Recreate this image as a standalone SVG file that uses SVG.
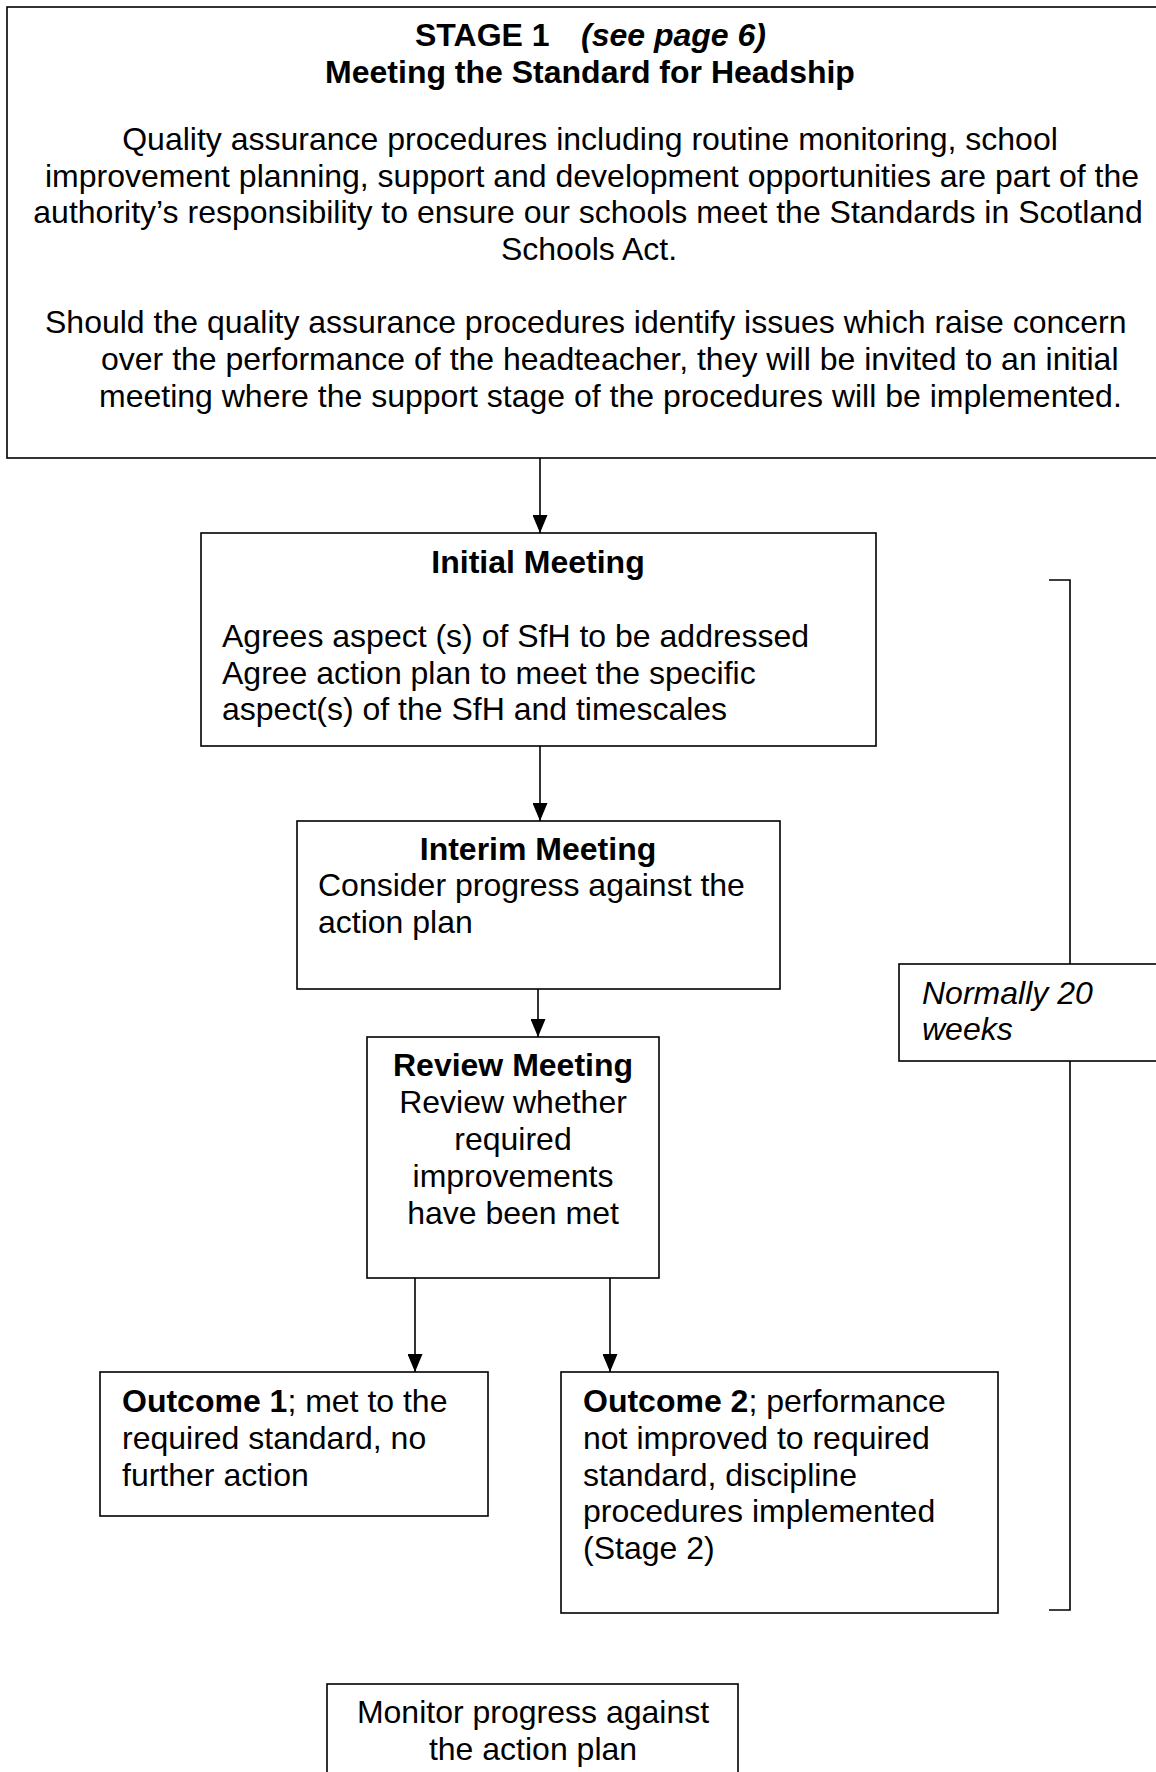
<svg xmlns="http://www.w3.org/2000/svg" width="1156" height="1772" viewBox="0 0 1156 1772">
<style>
text{font-family:"Liberation Sans",Arial,sans-serif;font-size:32px;fill:#000}
.b{font-weight:bold}
.i{font-style:italic}
.c{text-anchor:middle}
.box{fill:#fff;stroke:#000;stroke-width:1.6}
.ln{fill:none;stroke:#000;stroke-width:1.6}
</style>
<defs>
<marker id="ah" markerUnits="userSpaceOnUse" markerWidth="18" markerHeight="15" viewBox="0 0 18 15" refX="18" refY="7.5" orient="auto">
<path d="M0,0 L18,7.5 L0,15 z" fill="#000"/>
</marker>
</defs>
<rect width="1156" height="1772" fill="#fff"/>
<g id="stage1">
<rect class="box" x="7" y="7" width="1160" height="451"/>
<text class="b" x="415" y="46">STAGE 1</text>
<text class="b i" x="581" y="46">(see page 6)</text>
<text class="b c" x="590" y="83">Meeting the Standard for Headship</text>
<text class="c" x="590" y="150">Quality assurance procedures including routine monitoring, school</text>
<text class="c" x="592" y="187">improvement planning, support and development opportunities are part of the</text>
<text class="c" x="588" y="223">authority’s responsibility to ensure our schools meet the Standards in Scotland</text>
<text class="c" x="589" y="260">Schools Act.</text>
<text x="45" y="333">Should the quality assurance procedures identify issues which raise concern</text>
<text x="101" y="370">over the performance of the headteacher, they will be invited to an initial</text>
<text x="99" y="407">meeting where the support stage of the procedures will be implemented.</text>
</g>
<g id="initial">
<rect class="box" x="201" y="533" width="675" height="213"/>
<text class="b c" x="538" y="573">Initial Meeting</text>
<text x="222" y="647">Agrees aspect (s) of SfH to be addressed</text>
<text x="222" y="684">Agree action plan to meet the specific</text>
<text x="222" y="720">aspect(s) of the SfH and timescales</text>
</g>
<g id="interim">
<rect class="box" x="297" y="821" width="483" height="168"/>
<text class="b c" x="538" y="860">Interim Meeting</text>
<text x="318" y="896">Consider progress against the</text>
<text x="318" y="933">action plan</text>
</g>
<g id="review">
<rect class="box" x="367" y="1037" width="292" height="241"/>
<text class="b c" x="513" y="1076">Review Meeting</text>
<text class="c" x="513" y="1113">Review whether</text>
<text class="c" x="513" y="1150">required</text>
<text class="c" x="513" y="1187">improvements</text>
<text class="c" x="513" y="1224">have been met</text>
</g>
<g id="outcome1">
<rect class="box" x="100" y="1372" width="388" height="144"/>
<text x="122" y="1412"><tspan class="b">Outcome 1</tspan>; met to the</text>
<text x="122" y="1449">required standard, no</text>
<text x="122" y="1486">further action</text>
</g>
<g id="outcome2">
<rect class="box" x="561" y="1372" width="437" height="241"/>
<text x="583" y="1412"><tspan class="b">Outcome 2</tspan>; performance</text>
<text x="583" y="1449">not improved to required</text>
<text x="583" y="1486">standard, discipline</text>
<text x="583" y="1522">procedures implemented</text>
<text x="583" y="1559">(Stage 2)</text>
</g>
<g id="duration">
<rect class="box" x="899" y="964" width="270" height="97"/>
<text class="i" x="922" y="1004">Normally 20</text>
<text class="i" x="922" y="1040">weeks</text>
</g>
<g id="monitor">
<rect class="box" x="327" y="1684" width="411" height="120"/>
<text class="c" x="533" y="1723">Monitor progress against</text>
<text class="c" x="533" y="1760">the action plan</text>
</g>
<g id="bracket">
<polyline class="ln" points="1049,580 1070,580 1070,964"/>
<polyline class="ln" points="1070,1061 1070,1610 1049,1610"/>
</g>
<g id="connectors">
<line class="ln" x1="540" y1="458" x2="540" y2="533" marker-end="url(#ah)"/>
<line class="ln" x1="540" y1="746" x2="540" y2="821" marker-end="url(#ah)"/>
<line class="ln" x1="538" y1="989" x2="538" y2="1037" marker-end="url(#ah)"/>
<line class="ln" x1="415" y1="1278" x2="415" y2="1372" marker-end="url(#ah)"/>
<line class="ln" x1="610" y1="1278" x2="610" y2="1372" marker-end="url(#ah)"/>
</g>
</svg>
